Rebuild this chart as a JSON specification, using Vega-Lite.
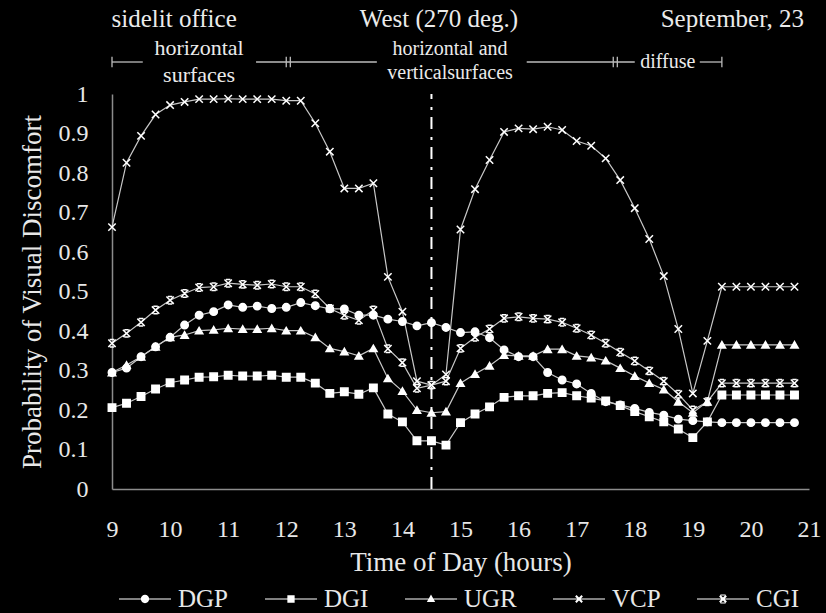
{
  "$schema": "https://vega.github.io/schema/vega-lite/v6.json",
  "width": 697,
  "height": 395,
  "autosize": "none",
  "padding": {"left": 112, "top": 94, "right": 17, "bottom": 124},
  "background": "black",
  "config": {
    "view": {"stroke": null},
    "font": "Liberation Serif",
    "axis": {
      "ticks": false,
      "grid": false,
      "labelFlush": false,
      "labelOverlap": false,
      "domainColor": "#8c8c8c",
      "domainWidth": 1.5,
      "labelColor": "#e8e8e8",
      "labelFont": "Liberation Serif",
      "labelFontSize": 24,
      "titleColor": "#e8e8e8",
      "titleFont": "Liberation Serif",
      "titleFontWeight": "normal"
    },
    "axisY": {"labelOverlap": false, "labelBound": false}
  },
  "resolve": {"scale": {"shape": "independent"}, "legend": {"shape": "independent"}},
  "datasets": {
    "main": [
      {"t": 9.00, "DGP": 0.295, "DGI": 0.206, "UGR": 0.295, "VCP": 0.663, "CGI": 0.369},
      {"t": 9.25, "DGP": 0.306, "DGI": 0.217, "UGR": 0.314, "VCP": 0.826, "CGI": 0.394},
      {"t": 9.50, "DGP": 0.335, "DGI": 0.234, "UGR": 0.335, "VCP": 0.894, "CGI": 0.422},
      {"t": 9.75, "DGP": 0.360, "DGI": 0.253, "UGR": 0.360, "VCP": 0.948, "CGI": 0.453},
      {"t": 10.00, "DGP": 0.384, "DGI": 0.269, "UGR": 0.384, "VCP": 0.972, "CGI": 0.478},
      {"t": 10.25, "DGP": 0.415, "DGI": 0.276, "UGR": 0.390, "VCP": 0.980, "CGI": 0.495},
      {"t": 10.50, "DGP": 0.440, "DGI": 0.283, "UGR": 0.401, "VCP": 0.987, "CGI": 0.510},
      {"t": 10.75, "DGP": 0.449, "DGI": 0.284, "UGR": 0.403, "VCP": 0.987, "CGI": 0.512},
      {"t": 11.00, "DGP": 0.466, "DGI": 0.288, "UGR": 0.407, "VCP": 0.988, "CGI": 0.521},
      {"t": 11.25, "DGP": 0.460, "DGI": 0.286, "UGR": 0.405, "VCP": 0.987, "CGI": 0.518},
      {"t": 11.50, "DGP": 0.463, "DGI": 0.286, "UGR": 0.405, "VCP": 0.987, "CGI": 0.516},
      {"t": 11.75, "DGP": 0.457, "DGI": 0.288, "UGR": 0.407, "VCP": 0.987, "CGI": 0.519},
      {"t": 12.00, "DGP": 0.460, "DGI": 0.283, "UGR": 0.401, "VCP": 0.983, "CGI": 0.512},
      {"t": 12.25, "DGP": 0.472, "DGI": 0.283, "UGR": 0.401, "VCP": 0.983, "CGI": 0.512},
      {"t": 12.50, "DGP": 0.464, "DGI": 0.268, "UGR": 0.384, "VCP": 0.926, "CGI": 0.494},
      {"t": 12.75, "DGP": 0.456, "DGI": 0.242, "UGR": 0.356, "VCP": 0.854, "CGI": 0.457},
      {"t": 13.00, "DGP": 0.456, "DGI": 0.246, "UGR": 0.348, "VCP": 0.761, "CGI": 0.440},
      {"t": 13.25, "DGP": 0.440, "DGI": 0.240, "UGR": 0.337, "VCP": 0.761, "CGI": 0.427},
      {"t": 13.50, "DGP": 0.440, "DGI": 0.256, "UGR": 0.356, "VCP": 0.774, "CGI": 0.453},
      {"t": 13.75, "DGP": 0.430, "DGI": 0.190, "UGR": 0.280, "VCP": 0.537, "CGI": 0.355},
      {"t": 14.00, "DGP": 0.424, "DGI": 0.170, "UGR": 0.248, "VCP": 0.449, "CGI": 0.320},
      {"t": 14.25, "DGP": 0.413, "DGI": 0.122, "UGR": 0.200, "VCP": 0.273, "CGI": 0.255},
      {"t": 14.50, "DGP": 0.421, "DGI": 0.122, "UGR": 0.193, "VCP": 0.263, "CGI": 0.263},
      {"t": 14.75, "DGP": 0.409, "DGI": 0.111, "UGR": 0.196, "VCP": 0.290, "CGI": 0.273},
      {"t": 15.00, "DGP": 0.396, "DGI": 0.168, "UGR": 0.268, "VCP": 0.657, "CGI": 0.356},
      {"t": 15.25, "DGP": 0.398, "DGI": 0.190, "UGR": 0.291, "VCP": 0.759, "CGI": 0.384},
      {"t": 15.50, "DGP": 0.383, "DGI": 0.208, "UGR": 0.312, "VCP": 0.833, "CGI": 0.405},
      {"t": 15.75, "DGP": 0.352, "DGI": 0.232, "UGR": 0.339, "VCP": 0.904, "CGI": 0.432},
      {"t": 16.00, "DGP": 0.335, "DGI": 0.236, "UGR": 0.337, "VCP": 0.913, "CGI": 0.436},
      {"t": 16.25, "DGP": 0.335, "DGI": 0.236, "UGR": 0.337, "VCP": 0.911, "CGI": 0.432},
      {"t": 16.50, "DGP": 0.295, "DGI": 0.242, "UGR": 0.354, "VCP": 0.917, "CGI": 0.430},
      {"t": 16.75, "DGP": 0.276, "DGI": 0.244, "UGR": 0.354, "VCP": 0.909, "CGI": 0.422},
      {"t": 17.00, "DGP": 0.266, "DGI": 0.236, "UGR": 0.337, "VCP": 0.881, "CGI": 0.407},
      {"t": 17.25, "DGP": 0.242, "DGI": 0.230, "UGR": 0.333, "VCP": 0.869, "CGI": 0.390},
      {"t": 17.50, "DGP": 0.221, "DGI": 0.223, "UGR": 0.325, "VCP": 0.837, "CGI": 0.369},
      {"t": 17.75, "DGP": 0.213, "DGI": 0.211, "UGR": 0.306, "VCP": 0.782, "CGI": 0.346},
      {"t": 18.00, "DGP": 0.204, "DGI": 0.196, "UGR": 0.286, "VCP": 0.711, "CGI": 0.324},
      {"t": 18.25, "DGP": 0.194, "DGI": 0.183, "UGR": 0.268, "VCP": 0.633, "CGI": 0.299},
      {"t": 18.50, "DGP": 0.187, "DGI": 0.170, "UGR": 0.252, "VCP": 0.539, "CGI": 0.273},
      {"t": 18.75, "DGP": 0.177, "DGI": 0.152, "UGR": 0.221, "VCP": 0.405, "CGI": 0.240},
      {"t": 19.00, "DGP": 0.173, "DGI": 0.130, "UGR": 0.193, "VCP": 0.242, "CGI": 0.200},
      {"t": 19.25, "DGP": 0.170, "DGI": 0.170, "UGR": 0.221, "VCP": 0.375, "CGI": 0.221},
      {"t": 19.50, "DGP": 0.168, "DGI": 0.238, "UGR": 0.365, "VCP": 0.512, "CGI": 0.268},
      {"t": 19.75, "DGP": 0.168, "DGI": 0.238, "UGR": 0.365, "VCP": 0.512, "CGI": 0.268},
      {"t": 20.00, "DGP": 0.168, "DGI": 0.238, "UGR": 0.365, "VCP": 0.512, "CGI": 0.268},
      {"t": 20.25, "DGP": 0.168, "DGI": 0.238, "UGR": 0.365, "VCP": 0.512, "CGI": 0.268},
      {"t": 20.50, "DGP": 0.168, "DGI": 0.238, "UGR": 0.365, "VCP": 0.512, "CGI": 0.268},
      {"t": 20.75, "DGP": 0.168, "DGI": 0.238, "UGR": 0.365, "VCP": 0.512, "CGI": 0.268}
    ],
    "header": [
      {"t": 10.07, "v": 1.17, "text": "sidelit office"},
      {"t": 14.63, "v": 1.17, "text": "West (270 deg.)"},
      {"t": 19.68, "v": 1.17, "text": "September, 23"}
    ],
    "sub1": [
      {"t": 10.5, "v": 1.099, "text": "horizontal"},
      {"t": 10.5, "v": 1.030, "text": "surfaces"}
    ],
    "sub2": [
      {"t": 14.82, "v": 1.099, "text": "horizontal and"},
      {"t": 14.82, "v": 1.038, "text": "verticalsurfaces"},
      {"t": 18.57, "v": 1.066, "text": "diffuse"}
    ],
    "segs": [
      {"t": 9.0, "t2": 9.53},
      {"t": 11.48, "t2": 13.56},
      {"t": 16.14, "t2": 18.0},
      {"t": 19.12, "t2": 19.5}
    ],
    "bars": [
      {"t": 9.0},
      {"t": 12.0},
      {"t": 12.07},
      {"t": 17.63},
      {"t": 17.7},
      {"t": 19.5}
    ]
  },
  "layer": [
    {
      "data": {"name": "main"},
      "transform": [{"fold": ["DGP", "DGI", "UGR", "VCP", "CGI"], "as": ["series", "value"]}],
      "mark": {"type": "line", "color": "#c8c8c8", "strokeWidth": 1.2},
      "encoding": {
        "x": {"field": "t", "type": "quantitative", "scale": {"domain": [9, 21], "nice": false},
          "axis": {"values": [9,10,11,12,13,14,15,16,17,18,19,20,21], "format": "d", "labelPadding": 28, "labelOverlap": false,
            "title": "Time of Day (hours)", "titleFontSize": 27, "titlePadding": 8}},
        "y": {"field": "value", "type": "quantitative", "scale": {"domain": [0, 1], "nice": false},
          "axis": {"values": [0,0.1,0.2,0.3,0.4,0.5,0.6,0.7,0.8,0.9,1], "tickCount": 11, "format": ".1~f", "labelPadding": 24, "labelOverlap": false,
            "title": "Probability of  Visual Discomfort", "titleFontSize": 27, "titlePadding": 12}},
        "detail": {"field": "series", "type": "nominal"}
      }
    },
    {
      "data": {"values": [{}]},
      "mark": {"type": "rule", "color": "white", "strokeWidth": 2, "strokeDash": [12, 7, 3, 8]},
      "encoding": {
        "x": {"datum": 14.5, "type": "quantitative"},
        "y": {"datum": 0, "type": "quantitative"},
        "y2": {"datum": 1}
      }
    },
    {
      "data": {"name": "main"},
      "transform": [{"fold": ["DGP", "DGI", "UGR", "VCP", "CGI"], "as": ["series", "value"]}],
      "mark": {"type": "point", "filled": true, "fill": "white", "stroke": "white", "strokeWidth": 1.5, "size": 55, "opacity": 1},
      "encoding": {
        "x": {"field": "t", "type": "quantitative"},
        "y": {"field": "value", "type": "quantitative"},
        "shape": {
          "field": "series", "type": "nominal",
          "scale": {
            "domain": ["DGP", "DGI", "UGR", "VCP", "CGI"],
            "range": ["circle", "square", "triangle-up", "M-1,-1L1,1M-1,1L1,-1", "M-1,-1L1,1M-1,1L1,-1M-0.6,-1H0.6M-0.6,1H0.6"]
          },
          "legend": null
        }
      }
    },
    {
      "data": {"values": []},
      "mark": {"type": "point", "filled": true, "fill": "white", "opacity": 1},
      "encoding": {
        "x": {"field": "t", "type": "quantitative"},
        "y": {"field": "v", "type": "quantitative"},
        "shape": {
          "field": "series", "type": "nominal",
          "scale": {
            "domain": ["DGP", "DGI", "UGR", "VCP", "CGI"],
            "range": [
              "M-1,-0.022H1V0.022H-1ZM-0.16,0A0.16,0.16 0 1,1 0.16,0A0.16,0.16 0 1,1 -0.16,0Z",
              "M-1,-0.022H1V0.022H-1ZM-0.14,-0.14H0.14V0.14H-0.14Z",
              "M-1,-0.022H1V0.022H-1ZM0,-0.17L0.16,0.12H-0.16Z",
              "M-1,-0.022H1V0.022H-1ZM-0.15,-0.095L-0.095,-0.15L0.15,0.095L0.095,0.15ZM0.095,-0.15L0.15,-0.095L-0.095,0.15L-0.15,0.095Z",
              "M-1,-0.022H1V0.022H-1ZM-0.15,-0.095L-0.095,-0.15L0.15,0.095L0.095,0.15ZM0.095,-0.15L0.15,-0.095L-0.095,0.15L-0.15,0.095ZM-0.1,-0.17H0.1V-0.13H-0.1ZM-0.1,0.13H0.1V0.17H-0.1Z"
            ]
          },
          "legend": {
            "orient": "none", "direction": "horizontal", "columns": 5,
            "legendX": 6, "legendY": 478, "title": null,
            "symbolSize": 2704, "symbolFillColor": "white",
            "labelFontSize": 25, "labelColor": "#e8e8e8", "labelFont": "Liberation Serif",
            "labelOffset": 6, "columnPadding": 33
          }
        }
      }
    },
    {
      "data": {"name": "segs"},
      "mark": {"type": "rule", "color": "#bbbbbb", "strokeWidth": 1.3},
      "encoding": {
        "x": {"field": "t", "type": "quantitative"},
        "x2": {"field": "t2"},
        "y": {"datum": 1.081, "type": "quantitative"}
      }
    },
    {
      "data": {"name": "bars"},
      "mark": {"type": "rule", "color": "#bbbbbb", "strokeWidth": 1.3},
      "encoding": {
        "x": {"field": "t", "type": "quantitative"},
        "y": {"datum": 1.068, "type": "quantitative"},
        "y2": {"datum": 1.094}
      }
    },
    {
      "data": {"name": "header"},
      "mark": {"type": "text", "fontSize": 25, "color": "#ebebeb", "baseline": "alphabetic", "align": "center", "font": "Liberation Serif"},
      "encoding": {
        "x": {"field": "t", "type": "quantitative"},
        "y": {"field": "v", "type": "quantitative"},
        "text": {"field": "text"}
      }
    },
    {
      "data": {"name": "sub1"},
      "mark": {"type": "text", "fontSize": 22, "color": "#ebebeb", "baseline": "alphabetic", "align": "center", "font": "Liberation Serif"},
      "encoding": {
        "x": {"field": "t", "type": "quantitative"},
        "y": {"field": "v", "type": "quantitative"},
        "text": {"field": "text"}
      }
    },
    {
      "data": {"name": "sub2"},
      "mark": {"type": "text", "fontSize": 20, "color": "#ebebeb", "baseline": "alphabetic", "align": "center", "font": "Liberation Serif"},
      "encoding": {
        "x": {"field": "t", "type": "quantitative"},
        "y": {"field": "v", "type": "quantitative"},
        "text": {"field": "text"}
      }
    }
  ]
}
